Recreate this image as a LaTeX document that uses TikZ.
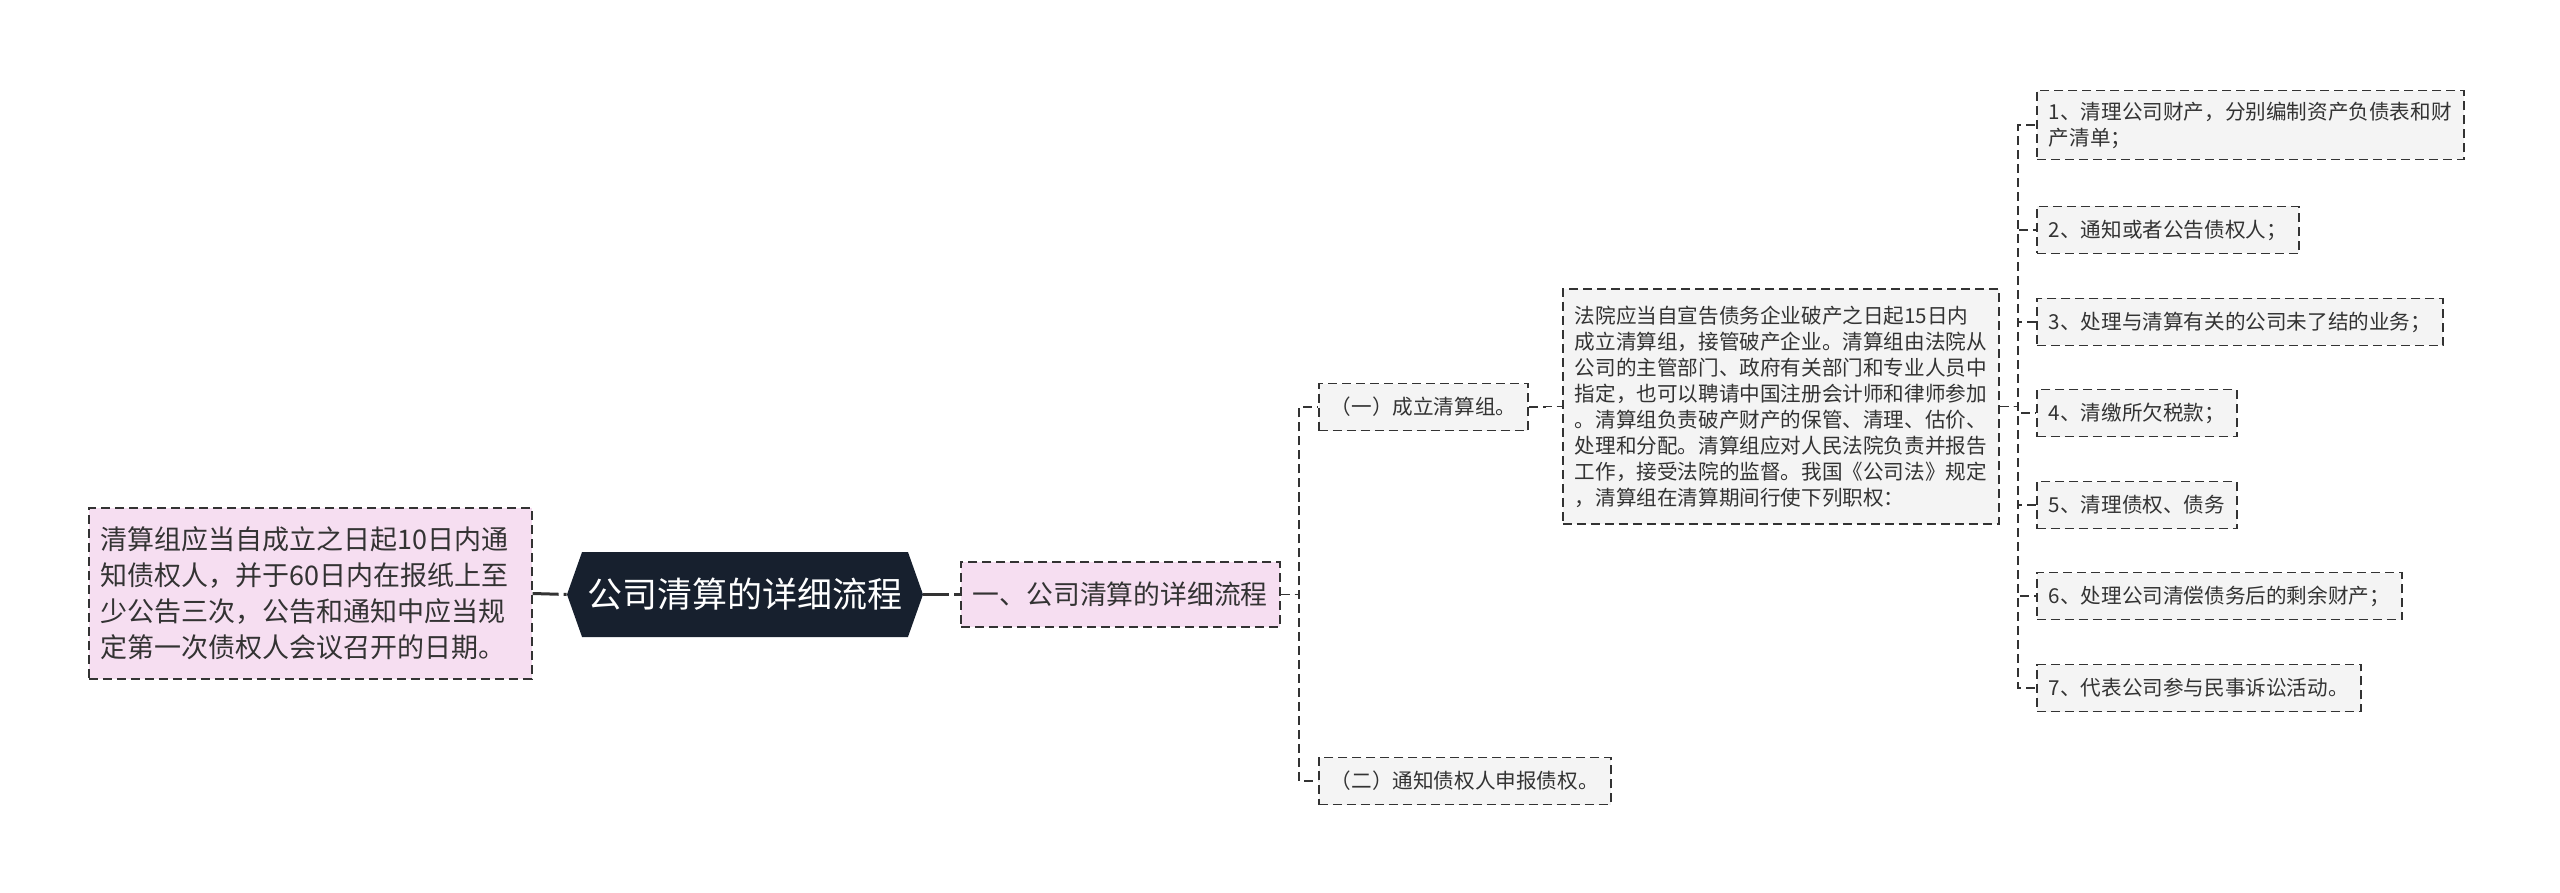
\documentclass[tikz,border=0pt]{standalone}
\usepackage{fontspec}
\setmainfont{Noto Sans CJK SC}
\usetikzlibrary{calc,shapes.symbols}

\definecolor{hexfill}{HTML}{17202E}
\definecolor{pinkfill}{HTML}{F6DEF1}
\definecolor{greyfill}{HTML}{F4F4F4}
\definecolor{edge}{HTML}{333333}

\tikzset{
	box/.style={draw=edge, line width=0.85pt, dash pattern=on 4.5pt off 2.5pt, text=edge, inner xsep=6pt, inner ysep=5.5pt, align=left},
	pinkbox/.style={box, fill=pinkfill},
	greybox/.style={box, fill=greyfill, font=\fontsize{10.3}{13}\selectfont, minimum height=23.5pt},
	link/.style={draw=edge, line width=0.9pt, dash pattern=on 4.5pt off 2.5pt},
	boldlink/.style={draw=edge, line width=1.5pt, dash pattern=on 13pt off 2.5pt},
}

\begin{document}
\begin{tikzpicture}[x=0.5pt, y=0.5pt]
		\useasboundingbox (0,0) rectangle (2560,-893);
		
		\node (root) at (745,-594.5) [signal, signal to=west and east, signal pointer angle=141, fill=hexfill, text=white, minimum width=178pt, minimum height=42.5pt, inner sep=0pt, font=\fontsize{17.5}{21}\selectfont] {公司清算的详细流程};
		
		\node (note) at (88,-593.5) [pinkbox, anchor=west, text width=209.5pt, minimum height=85.5pt, inner ysep=0pt, font=\fontsize{13.5}{18}\selectfont] {清算组应当自成立之日起10日内通\\知债权人，并于60日内在报纸上至\\少公告三次，公告和通知中应当规\\定第一次债权人会议召开的日期。};
		\node (one) at (960,-594.5) [pinkbox, anchor=west, minimum height=32.5pt, inner ysep=0pt, font=\fontsize{13.4}{16}\selectfont] {一、公司清算的详细流程};
		
		\draw[boldlink] (note.east) -- (root.west);
		\draw[boldlink] (root.east) -- (one.west);
		
		\node (s1) at (1318,-407) [greybox, anchor=west] {（一）成立清算组。};
		\node (s2) at (1318,-781) [greybox, anchor=west] {（二）通知债权人申报债权。};
		\draw[link] (one.east) -| ($(one.east)!.5!(s1.west)$) |- (s1.west);
		\draw[link] (one.east) -| ($(one.east)!.5!(s2.west)$) |- (s2.west);
		
		\node (duty) at (1562,-406.5) [greybox, anchor=west, text width=206pt, minimum height=117.5pt] {法院应当自宣告债务企业破产之日起15日内\\成立清算组，接管破产企业。清算组由法院从\\公司的主管部门、政府有关部门和专业人员中\\指定，也可以聘请中国注册会计师和律师参加\\。清算组负责破产财产的保管、清理、估价、\\处理和分配。清算组应对人民法院负责并报告\\工作，接受法院的监督。我国《公司法》规定\\，清算组在清算期间行使下列职权：};
		\draw[link] (s1.east) -| ($(s1.east)!.5!(duty.west)$) |- (duty.west);
		
		\foreach \y/\txt [count=\i] in {125/{1、清理公司财产，分别编制资产负债表和财\\产清单；}, 230/{2、通知或者公告债权人；}, 322/{3、处理与清算有关的公司未了结的业务；}, 413/{4、清缴所欠税款；}, 505/{5、清理债权、债务}, 596/{6、处理公司清偿债务后的剩余财产；}, 688/{7、代表公司参与民事诉讼活动。}} {
			\node (d\i) at (2036,-\y) [greybox, anchor=west] {\txt};
			\draw[link] (duty.east) -| ($(duty.east)!.5!(d\i.west)$) |- (d\i.west);
		}
		
	\end{tikzpicture}
\end{document}
